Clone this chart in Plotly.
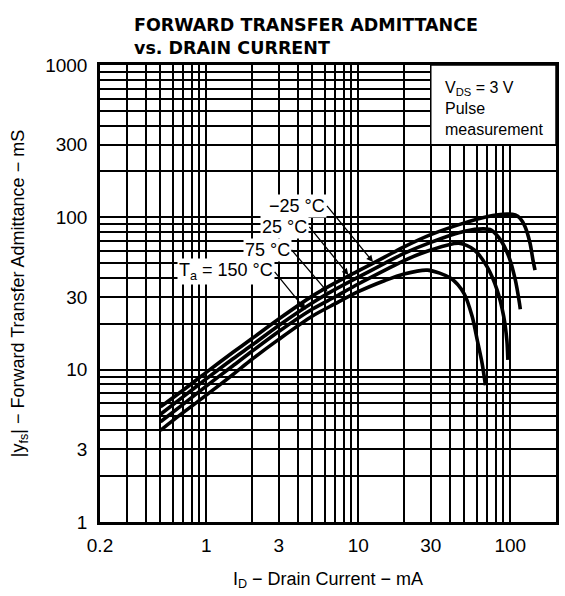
import numpy as np
import plotly.graph_objects as go

# ---- data (mA -> mS) ----
temps = ["-25 °C", "25 °C", "75 °C", "150 °C"]

id_m25 = [0.5, 0.7, 1, 1.5, 2, 3, 5, 7, 10, 15, 20, 30, 50, 70, 95, 108, 116, 125, 135, 141, 145.6]
yfs_m25 = [5.7, 7.3, 9.6, 13, 16, 21.5, 30.5, 37, 44.5, 55, 64, 77, 92, 101, 105, 103.5, 98.6, 87, 67.6, 52.6, 45]

id_25 = [0.5, 0.7, 1, 1.5, 2, 3, 5, 7, 10, 15, 20, 30, 50, 67, 75, 86, 98, 108, 115, 116.5]
yfs_25 = [5.1, 6.6, 8.7, 11.8, 14.5, 19.5, 27.5, 33.5, 40.5, 50, 58, 68.5, 81, 84, 82.5, 71.4, 55, 38.8, 27.3, 24.9]

id_75 = [0.5, 0.7, 1, 1.5, 2, 3, 5, 7, 10, 15, 20, 30, 46, 58, 70.5, 82, 90.6, 95, 96.5]
yfs_75 = [4.55, 5.9, 7.8, 10.6, 13.2, 17.8, 25, 30, 36.5, 45, 52, 61, 67.6, 61, 47.3, 33.3, 22.3, 15.6, 11.6]

id_150 = [0.5, 0.7, 1, 1.5, 2, 3, 5, 7, 10, 15, 20, 28.6, 40.6, 49.7, 56.2, 60.7, 65.3, 68.7]
yfs_150 = [4.0, 5.2, 6.8, 9.3, 11.7, 15.8, 22.5, 27, 32.5, 38.5, 42.5, 45, 39.8, 31.6, 22.3, 15.6, 11, 7.9]

x_tickvals = [0.2, 1, 3, 10, 30, 100]
x_ticktext = ["0.2", "1", "3", "10", "30", "100"]
x_minor = [0.3, 0.4, 0.5, 0.6, 0.7, 0.8, 0.9, 2, 4, 5, 6, 7, 8, 9,
           20, 40, 50, 60, 70, 80, 90]
y_tickvals = [1, 3, 10, 30, 100, 300, 1000]
y_ticktext = ["1", "3", "10", "30", "100", "300", "1000"]
y_minor = [2, 4, 5, 6, 7, 8, 9, 20, 40, 50, 60, 70, 80, 90,
           200, 400, 500, 600, 700, 800, 900]

FONT = "Liberation Sans, Arial, sans-serif"

fig = go.Figure()
for xs, ys, name in [(id_m25, yfs_m25, temps[0]), (id_25, yfs_25, temps[1]),
                     (id_75, yfs_75, temps[2]), (id_150, yfs_150, temps[3])]:
    fig.add_trace(go.Scatter(x=xs, y=ys, mode="lines", name=name,
                             line=dict(color="black", width=3.6, shape="spline", smoothing=0.8),
                             showlegend=False, hoverinfo="skip"))

axis_common = dict(type="log", showgrid=True, gridcolor="black", gridwidth=1.5,
                   showline=True, linecolor="black", linewidth=2.5, mirror=True,
                   ticks="", zeroline=False,
                   tickfont=dict(family=FONT, size=19, color="black"))

fig.update_xaxes(range=[np.log10(0.2), np.log10(200)],
                 tickvals=x_tickvals, ticktext=x_ticktext,
                 minor=dict(tickvals=x_minor, showgrid=True, gridcolor="black", gridwidth=1.5, ticks=""),
                 ticklabelstandoff=4,
                 title=dict(text="I<sub>D</sub> − Drain Current − mA", standoff=18,
                            font=dict(family=FONT, size=18, color="black")),
                 **axis_common)
fig.update_yaxes(range=[0, 3],
                 tickvals=y_tickvals, ticktext=y_ticktext,
                 minor=dict(tickvals=y_minor, showgrid=True, gridcolor="black", gridwidth=1.5, ticks=""),
                 ticklabelstandoff=6,
                 title=dict(text="|y<sub>fs</sub>| − Forward Transfer Admittance − mS", standoff=16,
                            font=dict(family=FONT, size=18, color="black")),
                 **axis_common)

# white condition box in the upper right
fig.add_shape(type="rect", xref="x", yref="y", x0=30, x1=200, y0=300, y1=1000,
              fillcolor="white", line=dict(color="black", width=1.5), layer="between")

L = np.log10
anns = []
anns.append(dict(x=L(36), y=L(840), xref="x", yref="y", xanchor="left", yanchor="top",
                 text="V<sub>DS</sub> = 3 V<br>Pulse<br>measurement", align="left",
                 showarrow=False, font=dict(family=FONT, size=16, color="black")))

# temperature labels with arrows: (text, tip x, tip y, tail dx px, tail dy px)
lab = [("−25 °C", 12.5, 51.0, -46, -56),
       ("25 °C", 8.61, 41.9, -39, -48),
       ("75 °C", 6.28, 32.4, -36, -42),
       ("T<sub>a</sub> = 150 °C", 4.51, 24.7, -31, -38)]
for t, xx, yy, ax, ay in lab:
    anns.append(dict(x=L(xx), y=L(yy), xref="x", yref="y", text=t, showarrow=True,
                     ax=ax, ay=ay, xanchor="right", yanchor="middle",
                     arrowhead=2, arrowsize=1, arrowwidth=1.3, arrowcolor="black", standoff=0,
                     bgcolor="white", borderpad=1,
                     font=dict(family=FONT, size=18, color="black")))

# chart title
anns.append(dict(x=0.07, y=1.114, xref="paper", yref="paper", xanchor="left", yanchor="top",
                 text="<b>FORWARD TRANSFER ADMITTANCE<br>vs. DRAIN CURRENT</b>", align="left",
                 showarrow=False, font=dict(family="DejaVu Sans, sans-serif", size=17.5, color="black")))

fig.update_layout(width=565, height=596, margin=dict(l=100, r=6, t=65, b=74),
                  paper_bgcolor="white", plot_bgcolor="white", annotations=anns,
                  showlegend=False)

fig.write_html("out.html")
